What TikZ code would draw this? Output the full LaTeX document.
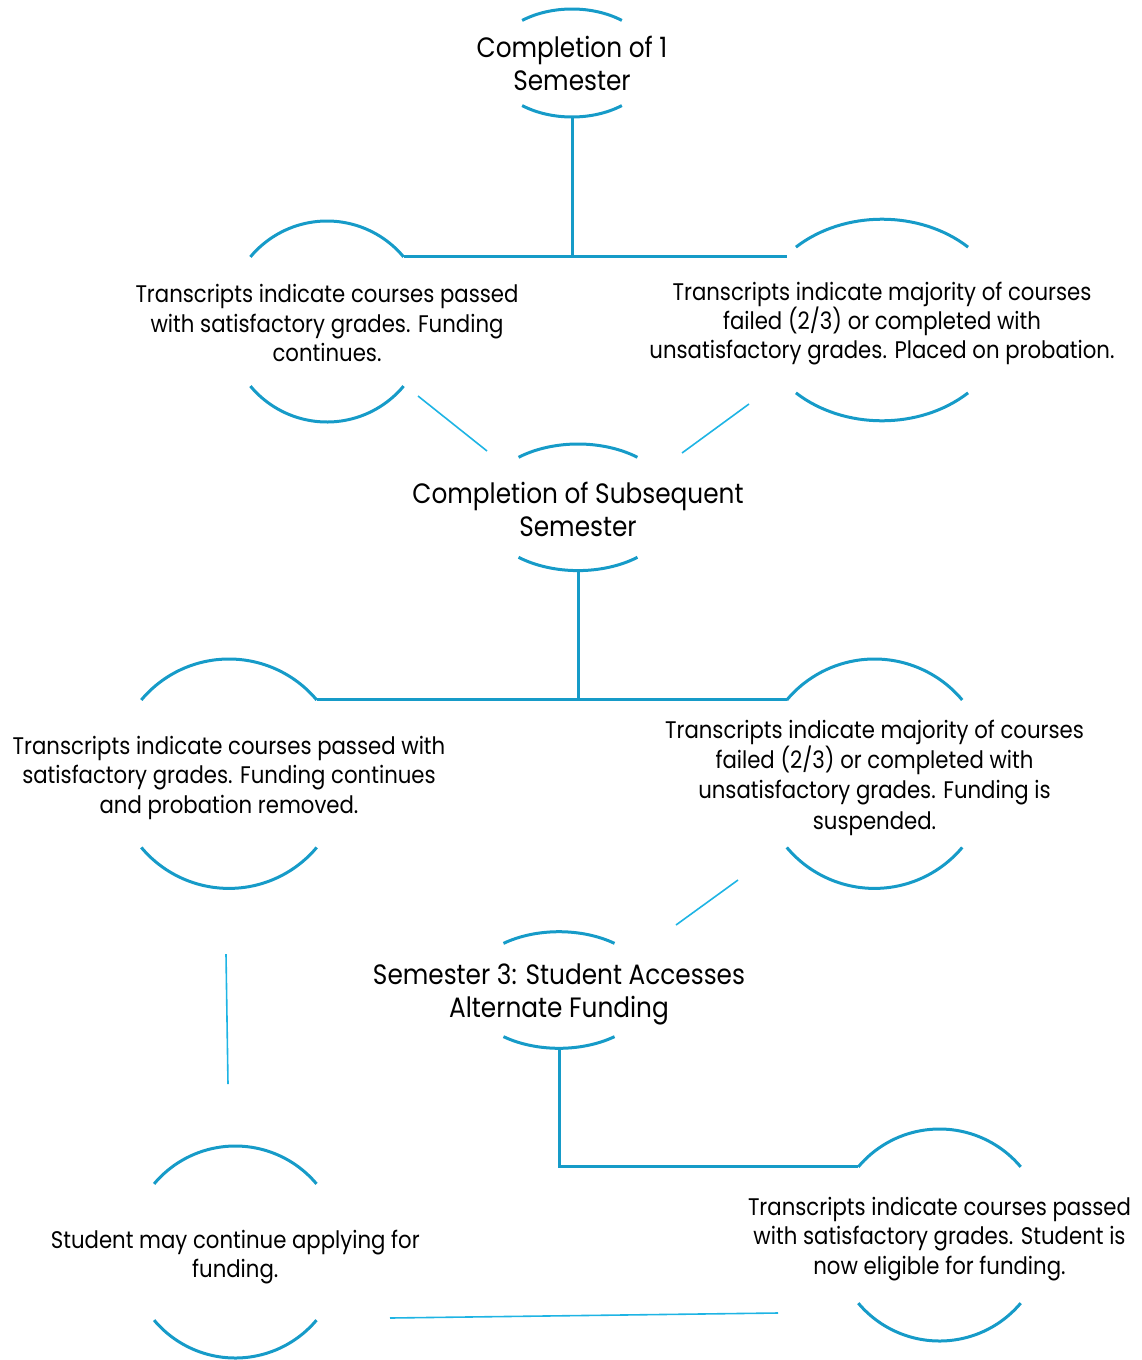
\documentclass[tikz,border=0pt]{standalone}
\usepackage{fontspec}
\setmainfont{Poppins}[FakeStretch=0.885]
\usetikzlibrary{calc}
\definecolor{thickblue}{RGB}{22,155,200}
\definecolor{thinblue}{RGB}{30,180,228}
\tikzset{
  arcline/.style={draw=thickblue,line width=3pt},
  mainline/.style={draw=thickblue,line width=3pt},
  thinline/.style={draw=thinblue,line width=1.6pt},
  bigtxt/.style={align=center,font=\fontsize{28}{32.5}\selectfont,text=black,inner sep=0pt},
  smalltxt/.style={align=center,font=\fontsize{24}{29.3}\selectfont,text=black,inner sep=0pt},
  widetxt/.style={align=center,font=\fontsize{24}{30.3}\selectfont,text=black,inner sep=0pt},
}
% #1 name, #2 cx, #3 cy, #4 rx, #5 ry, #6 half-angle, #7 text style, #8 text offset, #9 text
\newcommand\arcnode[9]{%
  \coordinate (#1) at (#2,#3);
  \coordinate (#1-tr) at ($(#1)+({#4*cos(#6)},{-#5*sin(#6)})$);
  \coordinate (#1-tl) at ($(#1)+({-#4*cos(#6)},{-#5*sin(#6)})$);
  \coordinate (#1-br) at ($(#1)+({#4*cos(#6)},{#5*sin(#6)})$);
  \coordinate (#1-bl) at ($(#1)+({-#4*cos(#6)},{#5*sin(#6)})$);
  \coordinate (#1-top) at ($(#1)+(0,-#5)$);
  \coordinate (#1-bot) at ($(#1)+(0,#5)$);
  \draw[arcline] (#1-tr) arc[start angle=#6, end angle={180-#6}, x radius=#4pt, y radius=#5pt];
  \draw[arcline] (#1-bl) arc[start angle={180+#6}, end angle={360-#6}, x radius=#4pt, y radius=#5pt];
  \node[#7] (#1-text) at ($(#1)+(0,#8)$) {#9};
}
\begin{document}
\begin{tikzpicture}[x=1pt,y=-1pt]
\useasboundingbox (0,0) rectangle (1141,1360);
\arcnode{A}{572}{63}{81}{54}{52}{bigtxt}{0.5}{Completion of 1\\Semester}
\arcnode{B}{327}{321.5}{100}{100.5}{40}{smalltxt}{1.5}{Transcripts indicate courses passed\\with satisfactory grades. Funding\\continues.}
\arcnode{C}{882}{320}{124.6}{100.8}{46.3}{smalltxt}{3.5}{Transcripts indicate majority of courses\\failed (2/3) or completed with\\unsatisfactory grades. Placed on probation.}
\arcnode{D}{578}{507.3}{97}{63.3}{52.2}{bigtxt}{2}{Completion of Subsequent\\Semester}
\arcnode{E}{229}{773.7}{114.5}{114.7}{40}{smalltxt}{4}{Transcripts indicate courses passed with\\satisfactory grades. Funding continues\\and probation removed.}
\arcnode{F}{874.5}{773.7}{114.5}{114.7}{40}{widetxt}{4}{Transcripts indicate majority of courses\\failed (2/3) or completed with\\unsatisfactory grades. Funding is\\suspended.}
\arcnode{G}{559}{990}{92.5}{58.3}{53.1}{bigtxt}{4.5}{Semester 3: Student Accesses\\Alternate Funding}
\arcnode{H}{939.5}{1235}{106}{106}{40}{smalltxt}{4}{Transcripts indicate courses passed\\with satisfactory grades. Student is\\now eligible for funding.}
\arcnode{I}{235.3}{1252}{106}{106}{40}{smalltxt}{5}{Student may continue applying for\\funding.}
% free ends
\coordinate (Cj) at (787,256);
\coordinate (BD1) at (418,396);
\coordinate (BD2) at (487,451);
\coordinate (CD1) at (749,404);
\coordinate (CD2) at (682,453);
\coordinate (FG1) at (738,880);
\coordinate (FG2) at (676,925);
\coordinate (EI1) at (226,954);
\coordinate (EI2) at (228,1084);
\coordinate (IH1) at (390,1318);
\coordinate (IH2) at (778,1313);
% connectors
\draw[mainline] (A-bot) -- (A-bot |- B-tr) -- (B-tr);
\draw[mainline] (A-bot |- Cj) -- (Cj);
\draw[mainline] (D-bot) -- (D-bot |- E-tr);
\draw[mainline] (E-tr) -- (F-tl);
\draw[mainline] (G-bot) -- (G-bot |- H-tl) -- (H-tl);
\draw[thinline] (BD1) -- (BD2);
\draw[thinline] (CD1) -- (CD2);
\draw[thinline] (FG1) -- (FG2);
\draw[thinline] (EI1) -- (EI2);
\draw[thinline] (IH1) -- (IH2);
\end{tikzpicture}
\end{document}
